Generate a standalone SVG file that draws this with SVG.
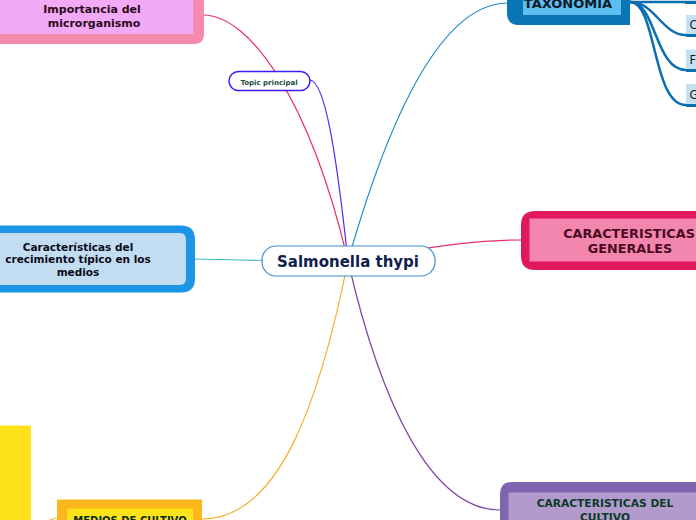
<svg xmlns="http://www.w3.org/2000/svg" width="696" height="520" viewBox="0 0 696 520">
<style>
text{font-family:"DejaVu Sans","Liberation Sans",sans-serif;font-weight:bold;text-anchor:middle}
.c{fill:none;stroke-width:1.2}
.tx{fill:none;stroke:#0a6fb0;stroke-width:2.5}
.leaf text{font-weight:normal;text-anchor:start;font-size:11.5px;fill:#1a1a1a}
</style>
<rect width="696" height="520" fill="#fff"/>
<g id="connectors">
<path class="c" d="M203,15 C250,15 310,100 348,261" stroke="#e8306a"/>
<path class="c" d="M310,80 C325,82 336,150 348,261" stroke="#4a2ff5"/>
<path class="c" d="M348,261 C388,120 440,3 508,3" stroke="#1b88c4"/>
<path class="c" d="M193,259 C220,259 240,261 348,261" stroke="#3eb8c8"/>
<path class="c" d="M348,261 C420,250 460,240 522,240" stroke="#e8306a"/>
<path class="c" d="M348,261 C320,400 280,519 202,519" stroke="#f9ad2a"/>
<path class="c" d="M348,261 C380,400 430,510 500,510" stroke="#7a45a8"/>
<path class="c" d="M48,521 C52,519 54,518 57,518" stroke="#f9ad2a"/>
<path class="tx" d="M628,2 L696,2"/>
<path class="tx" d="M630,2 C655,2 662,35 686,35"/>
<path class="tx" d="M630,2 C656,2 655,70 686,70"/>
<path class="tx" d="M630,2 C657,2 652,105 686,105"/>
</g>
<g id="importancia">
<path d="M-10,-10 H194 Q204,-10 204,4 V34 Q204,44 194,44 H-10 Z" fill="#f48aae"/>
<rect x="-10" y="-10" width="203" height="44" fill="#f2a9f6"/>
<text x="92" y="12.5" font-size="11" fill="#2a0a1a">Importancia del</text>
<text x="94" y="26.5" font-size="11" fill="#2a0a1a">microrganismo</text>
</g>
<g id="topic">
<rect x="229" y="71.5" width="81" height="19" rx="9.5" fill="#fff" stroke="#3b1ff0" stroke-width="1.5"/>
<text x="269" y="84.5" font-size="7" fill="#1a4a3a">Topic principal</text>
</g>
<g id="taxonomia">
<path d="M507,-10 H630 V25 H519 Q507,25 507,13 Z" fill="#0a75b5"/>
<rect x="523" y="-10" width="98" height="25" fill="#5cbfef"/>
<text x="568" y="8" font-size="13" fill="#0a1a2a">TAXONOMIA</text>
</g>
<g id="leaf-top" class="leaf">
<rect x="685" y="1" width="12" height="3" fill="#0a6fb0"/>
</g>
<g id="leaf-c" class="leaf">
<rect x="686" y="15" width="12" height="20" fill="#c5e1f4"/>
<rect x="686" y="34" width="12" height="3" fill="#0a6fb0"/>
<text x="689.5" y="29">C</text>
</g>
<g id="leaf-f" class="leaf">
<rect x="686" y="49.5" width="12" height="20" fill="#c5e1f4"/>
<rect x="686" y="69" width="12" height="3" fill="#0a6fb0"/>
<text x="689.5" y="64">F</text>
</g>
<g id="leaf-g" class="leaf">
<rect x="686" y="84" width="12" height="20" fill="#c5e1f4"/>
<rect x="686" y="104" width="12" height="3" fill="#0a6fb0"/>
<text x="689.5" y="99">G</text>
</g>
<g id="crecimiento">
<path d="M-10,225.5 H181 Q195,225.5 195,239.5 V278.5 Q195,292.5 181,292.5 H-10 Z" fill="#1b96e6"/>
<path d="M-10,233 H180 Q186,233 186,240 V278 Q186,285 180,285 H-10 Z" fill="#c2ddf1"/>
<text x="78" y="250.5" font-size="10.5" fill="#0a0a1a">Características del</text>
<text x="78" y="263" font-size="10.5" fill="#0a0a1a">crecimiento típico en los</text>
<text x="78" y="275.5" font-size="10.5" fill="#0a0a1a">medios</text>
</g>
<g id="generales">
<path d="M535,211 H706 V270 H535 Q521,270 521,256 V225 Q521,211 535,211 Z" fill="#e2185f"/>
<rect x="529.5" y="218.5" width="180" height="43" fill="#f386ae"/>
<text x="629" y="237.5" font-size="12.8" fill="#4a0a20">CARACTERISTICAS</text>
<text x="630" y="252.5" font-size="12.8" fill="#4a0a20">GENERALES</text>
</g>
<g id="center">
<rect x="262" y="246" width="173" height="30" rx="14" fill="#fff" stroke="#3f8fcb" stroke-width="1.2"/>
<text x="348" y="266.5" font-size="15" fill="#10204c">Salmonella thypi</text>
</g>
<g id="yellow-block">
<rect x="-10" y="425.5" width="41" height="110" fill="#ffe31a"/>
</g>
<g id="medios">
<rect x="57" y="499.5" width="145" height="30" fill="#fbb71b"/>
<rect x="67" y="508.5" width="126" height="20" fill="#ffe31a"/>
<text x="130" y="523.5" font-size="10" fill="#0a2a1a">MEDIOS DE CULTIVO</text>
</g>
<g id="cultivo">
<path d="M512,482 H706 V530 H500 V494 Q500,482 512,482 Z" fill="#7d65b0"/>
<rect x="508.5" y="492.5" width="200" height="40" fill="#b39acc"/>
<text x="605" y="507" font-size="10.7" fill="#0a3a2a">CARACTERISTICAS DEL</text>
<text x="605" y="520.5" font-size="10.7" fill="#0a3a2a">CULTIVO</text>
</g>
</svg>
